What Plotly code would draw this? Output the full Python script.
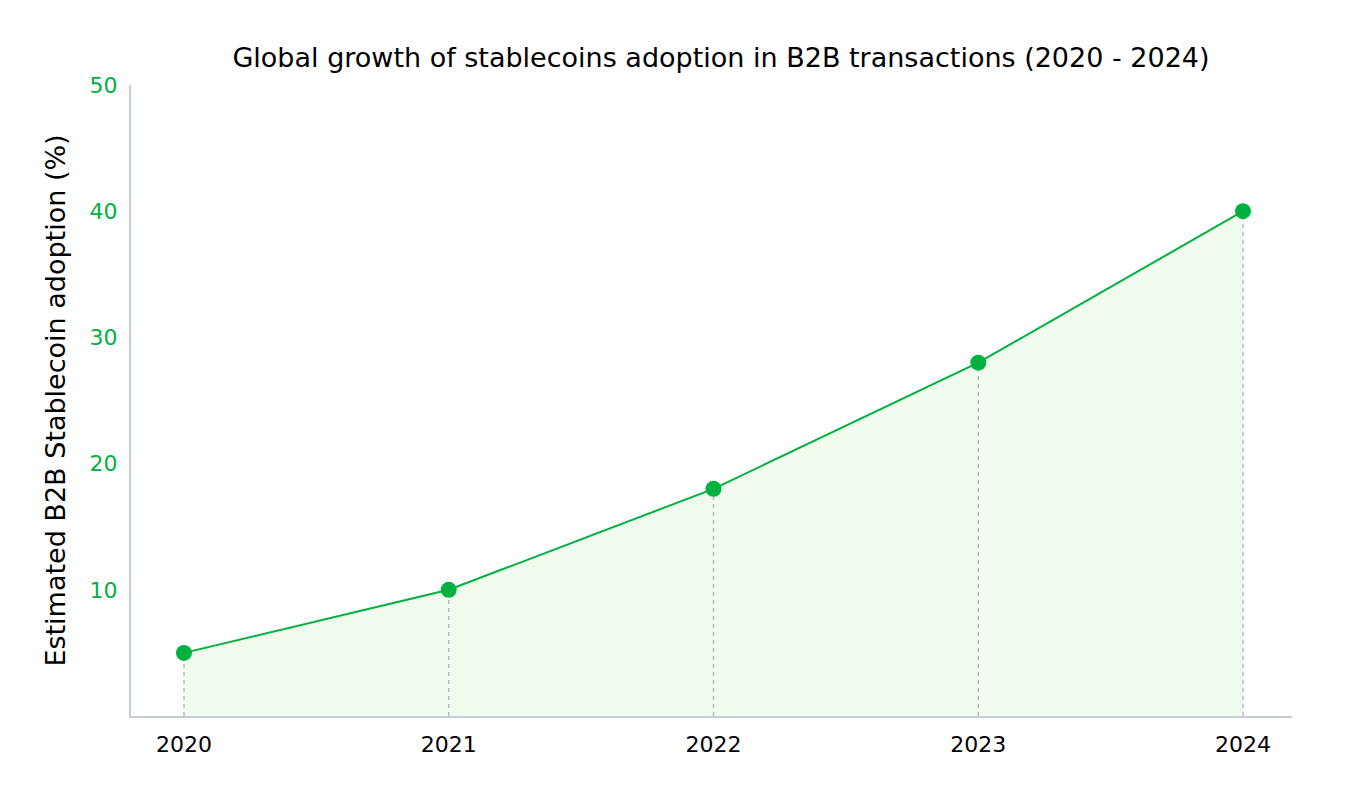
import plotly.graph_objects as go

years = [2020, 2021, 2022, 2023, 2024]
adoption = [5, 10, 18, 28, 40]
y_ticks = [10, 20, 30, 40, 50]

GREEN = "#00b140"
AXIS = "#c4ccd6"
FONT = "DejaVu Sans"

fig = go.Figure()
# area + line
fig.add_trace(go.Scatter(
    x=years, y=adoption, mode="lines",
    line=dict(color=GREEN, width=2),
    fill="tozeroy", fillcolor="#f1fcee",
    showlegend=False, hoverinfo="skip",
))
# dashed drop lines built from the data
drop_x, drop_y = [], []
for xv, yv in zip(years, adoption):
    drop_x += [xv, xv, None]
    drop_y += [0, yv, None]
fig.add_trace(go.Scatter(
    x=drop_x, y=drop_y, mode="lines",
    line=dict(color="#b3bcc6", width=1.5, dash="4px,4px"),
    showlegend=False, hoverinfo="skip",
))
# markers
fig.add_trace(go.Scatter(
    x=years, y=adoption, mode="markers",
    marker=dict(color=GREEN, size=16),
    showlegend=False, hoverinfo="x+y",
))

# browser body adds an 8px offset
fig.update_layout(
    width=1350, height=800,
    paper_bgcolor="white", plot_bgcolor="white",
    margin=dict(l=123, r=66, t=77, b=92),
    font=dict(family=FONT, color="black"),
    title=dict(text="Global growth of stablecoins adoption in B2B transactions (2020 - 2024)",
               x=(721 - 8) / 1350, xanchor="center", y=1 - (58 - 8) / 800, yanchor="middle",
               font=dict(size=27, color="black", family=FONT)),
)
fig.update_xaxes(
    range=[2019.8, 2024.185], tickvals=years, ticktext=[str(y) for y in years],
    showgrid=False, zeroline=False, showline=True, linecolor=AXIS, linewidth=2,
    ticks="", tickfont=dict(size=22, color="black"), ticklabelstandoff=8,
)
fig.update_yaxes(
    range=[0, 50], tickvals=y_ticks, showgrid=False, zeroline=False,
    showline=True, linecolor=AXIS, linewidth=2, ticks="",
    tickfont=dict(size=22, color=GREEN), ticklabelstandoff=7,
    title=dict(text="Estimated B2B Stablecoin adoption (%)", font=dict(size=27, color="black"),
               standoff=16),
)

fig.write_html("out.html")
